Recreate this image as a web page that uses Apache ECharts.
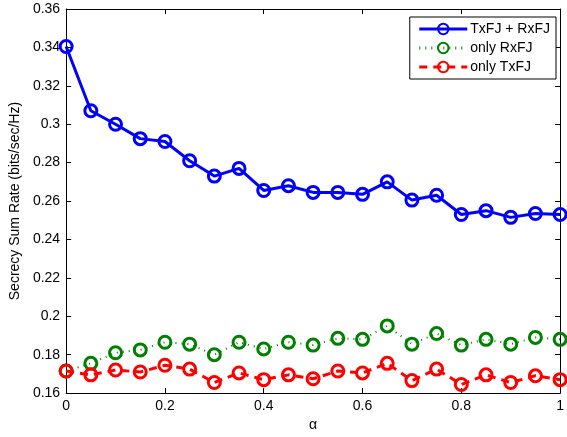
<!DOCTYPE html>
<html>
<head>
<meta charset="utf-8">
<script src="https://cdn.jsdelivr.net/npm/echarts@6/dist/echarts.min.js"></script>
<style>
  html, body { margin: 0; padding: 0; background: #fff; }
  #main { width: 567px; height: 437px; }
</style>
</head>
<body>
<div id="main"></div>
<script>
// alpha values on the x axis
var alphas = [0, 0.05, 0.1, 0.15, 0.2, 0.25, 0.3, 0.35, 0.4, 0.45, 0.5,
  0.55, 0.6, 0.65, 0.7, 0.75, 0.8, 0.85, 0.9, 0.95, 1];

var txRx = [0.3405, 0.307, 0.300, 0.2925, 0.291, 0.281, 0.273, 0.277, 0.2655, 0.268, 0.2645,
  0.2645, 0.2635, 0.270, 0.2605, 0.263, 0.253, 0.255, 0.2515, 0.2535, 0.253];
var onlyRx = [0.1715, 0.1755, 0.181, 0.1825, 0.1865, 0.1855, 0.180, 0.1865, 0.183, 0.1865, 0.185,
  0.1885, 0.188, 0.195, 0.1855, 0.191, 0.185, 0.188, 0.1855, 0.189, 0.188];
var onlyTx = [0.1715, 0.1695, 0.172, 0.171, 0.1745, 0.1725, 0.1655, 0.1705, 0.167, 0.1695, 0.1675,
  0.1715, 0.1705, 0.1755, 0.1665, 0.1725, 0.1645, 0.1695, 0.1655, 0.169, 0.167];

var seriesNames = ['TxFJ + RxFJ', 'only RxFJ', 'only TxFJ'];

function pairs(ys) {
  return alphas.map(function (a, i) { return [a, ys[i]]; });
}
function fmt(v) { return String(+v.toFixed(2)); }

var font = 'Liberation Sans, Arial, sans-serif';
var clear = 'rgba(255,255,255,0)';

var chart = echarts.init(document.getElementById('main'));
chart.setOption({
  animation: false,
  backgroundColor: '#fff',
  grid: { left: 66, right: 4, top: 9, bottom: 40, show: false },
  legend: {
    data: seriesNames,
    orient: 'vertical',
    right: 11,
    top: 17,
    padding: [5, 6, 5, 8],
    itemGap: 5,
    itemWidth: 48,
    itemHeight: 13,
    backgroundColor: '#fff',
    borderColor: '#000',
    borderWidth: 1,
    borderRadius: 0,
    lineStyle: { width: 3 },
    textStyle: { fontFamily: font, fontSize: 14, color: '#000', padding: [0, 0, 0, -2] }
  },
  xAxis: [{
    type: 'value', min: 0, max: 1, interval: 0.2,
    name: 'α', nameLocation: 'middle', nameGap: 22,
    nameTextStyle: { fontFamily: font, fontSize: 14, color: '#000' },
    axisLine: { show: true, onZero: false, lineStyle: { color: '#000', width: 1 } },
    axisTick: { show: true, inside: true, length: 5, lineStyle: { color: '#000' } },
    axisLabel: { fontFamily: font, fontSize: 14, color: '#000', margin: 6, formatter: fmt },
    splitLine: { show: false }
  }, {
    type: 'value', min: 0, max: 1, interval: 0.2, position: 'top',
    axisLine: { show: true, onZero: false, lineStyle: { color: '#000', width: 1 } },
    axisTick: { show: true, inside: true, length: 5, lineStyle: { color: '#000' } },
    axisLabel: { show: false },
    splitLine: { show: false }
  }],
  yAxis: [{
    type: 'value', min: 0.16, max: 0.36, interval: 0.02,
    name: 'Secrecy Sum Rate (bits/sec/Hz)', nameLocation: 'middle', nameGap: 39,
    nameTextStyle: { fontFamily: font, fontSize: 14, color: '#000' },
    axisLine: { show: true, onZero: false, lineStyle: { color: '#000', width: 1 } },
    axisTick: { show: true, inside: true, length: 5, lineStyle: { color: '#000' } },
    axisLabel: { fontFamily: font, fontSize: 14, color: '#000', margin: 6, formatter: fmt },
    splitLine: { show: false }
  }, {
    type: 'value', min: 0.16, max: 0.36, interval: 0.02, position: 'right',
    axisLine: { show: true, onZero: false, lineStyle: { color: '#000', width: 1 } },
    axisTick: { show: true, inside: true, length: 5, lineStyle: { color: '#000' } },
    axisLabel: { show: false },
    splitLine: { show: false }
  }],
  series: [{
    name: seriesNames[0], type: 'line', data: pairs(txRx),
    symbol: 'circle', symbolSize: 12,
    lineStyle: { color: '#0000ff', width: 3 },
    itemStyle: { color: clear, borderColor: '#0000ff', borderWidth: 3 }
  }, {
    name: seriesNames[1], type: 'line', data: pairs(onlyRx),
    symbol: 'circle', symbolSize: 12,
    lineStyle: { color: '#008000', width: 2, type: [1, 5] },
    itemStyle: { color: clear, borderColor: '#008000', borderWidth: 3 }
  }, {
    name: seriesNames[2], type: 'line', data: pairs(onlyTx),
    symbol: 'circle', symbolSize: 12,
    lineStyle: { color: '#ff0000', width: 3, type: [8, 6] },
    itemStyle: { color: clear, borderColor: '#ff0000', borderWidth: 3 }
  }]
});
</script>
</body>
</html>
